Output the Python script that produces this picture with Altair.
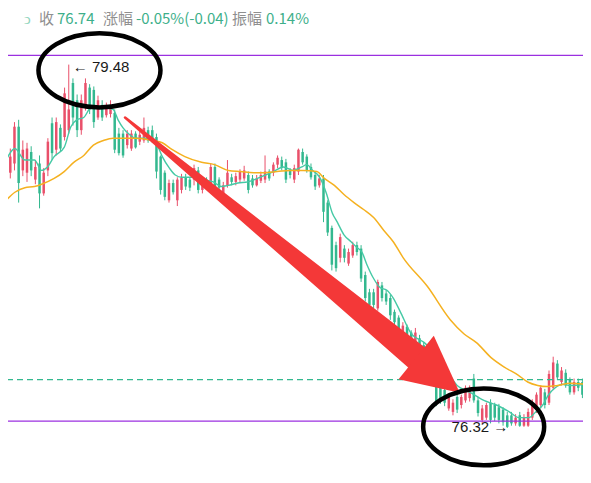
import altair as alt
import pandas as pd

# ---------------- data ----------------
OPEN = [79.00, 78.54, 78.62, 78.94, 78.56, 78.54, 78.72, 78.48, 78.62, 78.36,
        78.56, 78.97, 78.74, 78.93, 78.85, 78.91, 79.32, 79.17, 78.91, 79.11,
        79.28, 79.26, 79.02, 79.13, 79.04, 79.05, 79.06, 78.88, 78.88, 78.78,
        78.75, 78.88, 78.81, 78.82, 78.91, 78.91, 78.85, 78.68, 78.54, 78.30,
        78.45, 78.30, 78.39, 78.50, 78.48, 78.48, 78.56, 78.39, 78.48, 78.45,
        78.59, 78.48, 78.36, 78.43, 78.50, 78.46, 78.48, 78.49, 78.52, 78.49,
        78.43, 78.47, 78.48, 78.55, 78.54, 78.61, 78.65, 78.63, 78.56, 78.48,
        78.55, 78.72, 78.68, 78.59, 78.52, 78.43, 78.49, 78.28, 78.06, 77.91,
        77.80, 77.88, 77.75, 77.82, 77.91, 77.88, 77.65, 77.50, 77.50, 77.36,
        77.56, 77.49, 77.45, 77.33, 77.28, 77.13, 77.20, 77.15, 77.06, 77.10,
        77.04, 76.93, 76.98, 76.71, 76.69, 76.65, 76.49, 76.46, 76.59, 76.52,
        76.56, 76.58, 76.75, 76.56, 76.39, 76.41, 76.54, 76.52, 76.50, 76.48,
        76.43, 76.43, 76.36, 76.43, 76.34, 76.34, 76.41, 76.48, 76.52, 76.63,
        76.54, 76.67, 76.88, 76.72, 76.80, 76.74, 76.63, 76.72, 76.72]
HIGH = [79.06, 78.75, 78.98, 79.00, 78.82, 78.80, 78.77, 78.65, 78.69, 78.58,
        78.84, 79.02, 79.02, 78.96, 79.28, 79.48, 79.36, 79.22, 79.22, 79.36,
        79.31, 79.29, 79.21, 79.17, 79.15, 79.17, 79.09, 78.93, 78.91, 78.91,
        78.91, 78.90, 78.90, 79.02, 78.94, 78.95, 78.88, 78.69, 78.56, 78.48,
        78.48, 78.50, 78.53, 78.53, 78.50, 78.61, 78.59, 78.48, 78.50, 78.62,
        78.62, 78.50, 78.46, 78.65, 78.53, 78.54, 78.57, 78.60, 78.55, 78.52,
        78.52, 78.55, 78.69, 78.57, 78.63, 78.69, 78.68, 78.66, 78.58, 78.61,
        78.75, 78.75, 78.70, 78.62, 78.55, 78.52, 78.52, 78.30, 78.08, 77.94,
        78.01, 77.91, 77.88, 77.94, 77.94, 77.91, 77.68, 77.53, 77.53, 77.61,
        77.59, 77.52, 77.48, 77.35, 77.30, 77.24, 77.22, 77.17, 77.19, 77.13,
        77.07, 77.02, 77.01, 76.75, 76.72, 76.68, 76.61, 76.57, 76.61, 76.61,
        76.69, 76.69, 76.79, 76.59, 76.52, 76.54, 76.57, 76.54, 76.53, 76.50,
        76.46, 76.46, 76.44, 76.46, 76.44, 76.49, 76.57, 76.63, 76.69, 76.66,
        76.82, 76.94, 76.91, 76.85, 76.83, 76.76, 76.75, 76.75, 76.75]
LOW = [78.55, 78.49, 78.56, 78.28, 78.51, 78.46, 78.51, 78.44, 78.23, 78.34,
       78.51, 78.65, 78.69, 78.72, 78.82, 78.88, 78.95, 78.85, 78.87, 79.08,
       79.05, 78.93, 79.00, 78.99, 79.02, 79.02, 78.71, 78.69, 78.67, 78.75,
       78.73, 78.75, 78.78, 78.80, 78.80, 78.80, 78.49, 78.35, 78.30, 78.28,
       78.35, 78.25, 78.36, 78.39, 78.38, 78.43, 78.36, 78.36, 78.40, 78.42,
       78.36, 78.39, 78.34, 78.41, 78.43, 78.43, 78.45, 78.47, 78.36, 78.41,
       78.42, 78.45, 78.45, 78.47, 78.51, 78.58, 78.56, 78.45, 78.49, 78.45,
       78.52, 78.61, 78.54, 78.48, 78.39, 78.41, 78.11, 77.99, 77.69, 77.68,
       77.76, 77.76, 77.73, 77.80, 77.82, 77.59, 77.42, 77.35, 77.36, 77.34,
       77.42, 77.39, 77.26, 77.21, 77.14, 77.10, 77.04, 77.01, 77.03, 76.95,
       76.89, 76.89, 76.71, 76.51, 76.53, 76.51, 76.47, 76.43, 76.45, 76.49,
       76.54, 76.55, 76.54, 76.42, 76.36, 76.39, 76.36, 76.38, 76.36, 76.34,
       76.32, 76.34, 76.34, 76.33, 76.33, 76.33, 76.39, 76.45, 76.49, 76.49,
       76.52, 76.65, 76.74, 76.69, 76.67, 76.61, 76.61, 76.64, 76.58]
CLOSE = [78.61, 78.68, 78.94, 78.45, 78.74, 78.75, 78.56, 78.59, 78.36, 78.54,
         78.81, 78.71, 78.98, 78.75, 79.23, 79.09, 79.02, 78.91, 79.17, 79.32,
         79.09, 78.98, 79.17, 79.02, 79.12, 79.13, 78.74, 78.71, 78.69, 78.88,
         78.88, 78.76, 78.87, 78.93, 78.82, 78.82, 78.55, 78.39, 78.33, 78.45,
         78.37, 78.48, 78.50, 78.42, 78.41, 78.58, 78.39, 78.45, 78.42, 78.59,
         78.39, 78.41, 78.43, 78.54, 78.46, 78.51, 78.55, 78.56, 78.39, 78.43,
         78.49, 78.52, 78.55, 78.49, 78.61, 78.67, 78.59, 78.48, 78.52, 78.58,
         78.74, 78.63, 78.56, 78.50, 78.42, 78.49, 78.20, 78.02, 77.74, 77.71,
         77.98, 77.80, 77.85, 77.91, 77.85, 77.62, 77.45, 77.39, 77.39, 77.59,
         77.45, 77.42, 77.30, 77.24, 77.17, 77.21, 77.07, 77.04, 77.15, 76.98,
         76.93, 77.00, 76.74, 76.54, 76.56, 76.54, 76.59, 76.54, 76.48, 76.59,
         76.67, 76.67, 76.56, 76.45, 76.49, 76.52, 76.39, 76.41, 76.39, 76.37,
         76.33, 76.36, 76.41, 76.34, 76.41, 76.46, 76.54, 76.61, 76.67, 76.52,
         76.79, 76.89, 76.76, 76.82, 76.69, 76.63, 76.72, 76.67, 76.61]

# short moving average (teal), read at sparse candle positions
MA_S_IDX = [0, 2.1, 4.5, 6.8, 8.5, 9.9, 11.5, 13.9, 15.5, 16.9, 18.6, 20.2, 22.6,
            25.6, 26.8, 28.0, 29.6, 31.1, 33.4, 35.1, 36.2, 37.4, 39.1, 40.5,
            42.1, 44.5, 46.8, 49.6, 51.5, 53.2, 55.5, 57.9, 60.2, 62.1, 64.0,
            66.4, 68.7, 70.8, 72.0, 73.4, 75.1, 76.7, 78.1, 79.3, 80.9, 82.6,
            84.0, 85.2, 86.4, 88.0, 89.6, 91.1, 92.7, 94.4, 97.0, 100.2, 104.0,
            108.0, 111.1, 114.4, 117.4, 120.5, 122.8, 125.2, 126.8, 128.5, 129.9,
            131.5, 133.2, 135.1, 138.6]
MA_S_VAL = [78.65, 78.75, 78.65, 78.65, 78.56, 78.59, 78.68, 78.76, 78.94, 79.00,
            79.02, 79.10, 79.11, 79.09, 79.00, 78.93, 78.87, 78.84, 78.84, 78.84,
            78.78, 78.68, 78.58, 78.52, 78.50, 78.50, 78.48, 78.46, 78.42, 78.43,
            78.45, 78.46, 78.49, 78.52, 78.55, 78.59, 78.56, 78.59, 78.61, 78.56,
            78.50, 78.36, 78.19, 78.11, 78.00, 77.94, 77.89, 77.85, 77.74, 77.62,
            77.54, 77.52, 77.45, 77.33, 77.14, 77.06, 76.91, 76.69, 76.63, 76.56,
            76.52, 76.46, 76.41, 76.41, 76.46, 76.52, 76.61, 76.67, 76.70, 76.69,
            76.70]
# long moving average (orange)
MA_L_IDX = [0, 2.1, 4.5, 6.8, 8.5, 11.5, 13.9, 16.2, 18.6, 20.9, 23.3, 25.6, 31.1,
            35.1, 37.4, 39.8, 42.8, 46.8, 49.9, 53.2, 56.2, 59.3, 61.6, 64.9, 68.0,
            71.1, 74.4, 76.2, 78.6, 80.9, 83.3, 85.6, 88.0, 90.4, 92.7, 95.1,
            100.9, 106.4, 109.6, 112.7, 116.2, 119.3, 122.6, 124.9, 127.3, 129.6,
            132.0, 135.1, 138.6]
MA_L_VAL = [78.30, 78.37, 78.41, 78.42, 78.44, 78.49, 78.55, 78.63, 78.69, 78.78,
            78.82, 78.84, 78.84, 78.82, 78.80, 78.74, 78.68, 78.63, 78.61, 78.56,
            78.55, 78.54, 78.54, 78.55, 78.56, 78.56, 78.55, 78.49, 78.43, 78.35,
            78.28, 78.22, 78.15, 78.04, 77.94, 77.80, 77.55, 77.26, 77.14, 77.06,
            76.93, 76.85, 76.78, 76.72, 76.69, 76.68, 76.69, 76.71, 76.70]

UPPER_LEVEL = 79.56
LOWER_LEVEL = 76.38
LAST_CLOSE = 76.74
PEAK_IDX, PEAK_PRICE = 15, 79.48
TROUGH_IDX, TROUGH_PRICE = 120, 76.32

# hand-drawn annotations (candle index, price)
ARROW_IDX = [28.47, 98.4]
ARROW_PRICE = [79.02, 76.93]
ARROW_W = [2.5, 26]
HEAD_IDX, HEAD_PRICE = 103.4, 76.78
ELLIPSE_IDX = [22.35, 114.35]
ELLIPSE_PRICE = [79.43, 76.33]

HEADER = [("ↄ", 24, "#8fd4bc"), ("收", 39, "#8f8f8f"), ("76.74", 57, "#3daf8a"),
          ("涨幅", 103, "#8f8f8f"), ("-0.05%(-0.04)", 136, "#3daf8a"),
          ("振幅", 232, "#8f8f8f"), ("0.14%", 266, "#3daf8a")]

# ---------------- styling / layout ----------------
RED = "#e9506a"
GREEN = "#33b88f"
MA_S_COLOR = "#45c9a5"
MA_L_COLOR = "#f5b120"
PURPLE = "#9b30e0"
ARROW_RED = "#f43838"

W, H = 575, 460
MARGIN = 8
X0, STEP = 1.0, 4.25           # page x of candle 0, candle spacing
P_REF, Y_REF, PX_PER = 76.32, 428.0, 115.0


def price_at(y):
    return P_REF + (Y_REF - y) / PX_PER


xs = alt.Scale(domain=[(MARGIN - X0) / STEP, (MARGIN + W - X0) / STEP], nice=False, zero=False)
ys = alt.Scale(domain=[price_at(MARGIN + H), price_at(MARGIN)], nice=False, zero=False)

df = pd.DataFrame({"idx": list(range(len(OPEN))), "open": OPEN, "high": HIGH,
                   "low": LOW, "close": CLOSE})
df["dir"] = ["up" if c >= o else "down" for o, c in zip(OPEN, CLOSE)]
col = alt.Color("dir:N", scale=alt.Scale(domain=["up", "down"], range=[RED, GREEN]), legend=None)

X = lambda f: alt.X(f, scale=xs, axis=None)
Y = lambda f: alt.Y(f, scale=ys, axis=None)

base = alt.Chart(df)
wicks = base.mark_rule(strokeWidth=1).encode(x=X("idx:Q"), y=Y("low:Q"), y2="high:Q", color=col)
bodies = base.mark_bar(width=2.5).encode(x=X("idx:Q"), y=Y("open:Q"), y2="close:Q", color=col)

ma_s = alt.Chart(pd.DataFrame({"i": MA_S_IDX, "v": MA_S_VAL})).mark_line(
    color=MA_S_COLOR, strokeWidth=1.4, interpolate="monotone").encode(x=X("i:Q"), y=Y("v:Q"))
ma_l = alt.Chart(pd.DataFrame({"i": MA_L_IDX, "v": MA_L_VAL})).mark_line(
    color=MA_L_COLOR, strokeWidth=1.5, interpolate="monotone").encode(x=X("i:Q"), y=Y("v:Q"))

levels = alt.Chart(pd.DataFrame({"p": [UPPER_LEVEL, LOWER_LEVEL]})).mark_rule(
    color=PURPLE, strokeWidth=1.3).encode(y=Y("p:Q"))
last = alt.Chart(pd.DataFrame({"p": [LAST_CLOSE]})).mark_rule(
    color=GREEN, strokeWidth=1.3, strokeDash=[6, 4]).encode(y=Y("p:Q"))

shaft = alt.Chart(pd.DataFrame({"i": ARROW_IDX, "p": ARROW_PRICE, "w": ARROW_W, "o": [0, 1]})).mark_trail(
    color=ARROW_RED).encode(x=X("i:Q"), y=Y("p:Q"), size=alt.Size("w:Q", scale=None, legend=None),
                            order="o:Q")
head = alt.Chart(pd.DataFrame({"i": [HEAD_IDX], "p": [HEAD_PRICE]})).mark_point(
    shape="M0,-1L1,1L-1,1Z", filled=True, size=3136, angle=129, color=ARROW_RED,
    opacity=1, strokeWidth=0).encode(x=X("i:Q"), y=Y("p:Q"))

ell_path_1 = ("M1,0C1,0.335 0.552,0.607 0,0.607C-0.552,0.607 -1,0.335 -1,0"
              "C-1,-0.335 -0.552,-0.607 0,-0.607C0.552,-0.607 1,-0.335 1,0Z")
ell_path_2 = ("M1,0C1,0.35 0.552,0.635 0,0.635C-0.552,0.635 -1,0.35 -1,0"
              "C-1,-0.35 -0.552,-0.635 0,-0.635C0.552,-0.635 1,-0.35 1,0Z")
ell1 = alt.Chart(pd.DataFrame({"i": [ELLIPSE_IDX[0]], "p": [ELLIPSE_PRICE[0]]})).mark_point(
    shape=ell_path_1, filled=False, size=122 ** 2, color="black", strokeWidth=4.5, opacity=1
).encode(x=X("i:Q"), y=Y("p:Q"))
ell2 = alt.Chart(pd.DataFrame({"i": [ELLIPSE_IDX[1]], "p": [ELLIPSE_PRICE[1]]})).mark_point(
    shape=ell_path_2, filled=False, size=121 ** 2, color="black", strokeWidth=4.5, opacity=1
).encode(x=X("i:Q"), y=Y("p:Q"))

peak_txt = alt.Chart(pd.DataFrame({"i": [PEAK_IDX], "p": [PEAK_PRICE], "t": [f"← {PEAK_PRICE:.2f}"]})).mark_text(
    align="left", baseline="middle", dx=4, dy=2, fontSize=15, font="Liberation Sans", color="#1a1a1a"
).encode(x=X("i:Q"), y=Y("p:Q"), text="t:N")
trough_txt = alt.Chart(pd.DataFrame({"i": [TROUGH_IDX], "p": [TROUGH_PRICE], "t": [f"{TROUGH_PRICE:.2f} →"]})).mark_text(
    align="right", baseline="middle", dx=1, dy=-1, fontSize=15, font="Liberation Sans", color="#1a1a1a"
).encode(x=X("i:Q"), y=Y("p:Q"), text="t:N")

header_layers = []
for txt, px, c in HEADER:
    header_layers.append(
        alt.Chart(pd.DataFrame({"t": [txt]})).mark_text(
            align="left", baseline="middle", fontSize=15, font="Noto Sans CJK SC", color=c
        ).encode(x=alt.value(px - MARGIN), y=alt.value(19 - MARGIN), text="t:N")
    )

chart = alt.layer(
    wicks, bodies, ma_s, ma_l, levels, last, shaft, head, ell1, ell2, peak_txt, trough_txt,
    *header_layers
).properties(
    width=W, height=H, padding=0, autosize=alt.AutoSizeParams(type="none"), background="white"
).configure_view(stroke=None)

chart.save("out.html", embed_options={"renderer": "svg", "actions": False})
